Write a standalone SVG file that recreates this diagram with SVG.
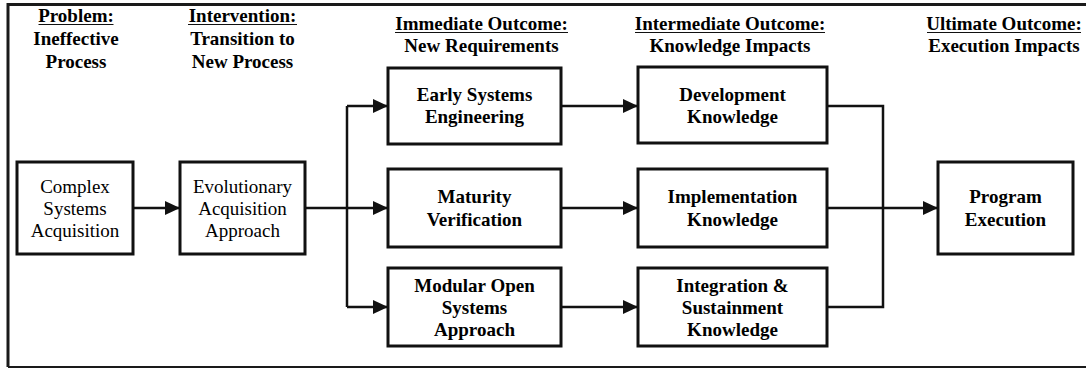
<svg xmlns="http://www.w3.org/2000/svg" width="1086" height="368" viewBox="0 0 1086 368">
<style>
  .box { fill: #ffffff; stroke: #111111; stroke-width: 3; }
  .c { fill: none; stroke: #111111; stroke-width: 2.5; }
  .ul { stroke: #111111; stroke-width: 1.2; }
</style>
<defs>
  <marker id="ah" markerUnits="userSpaceOnUse" markerWidth="16" markerHeight="15" refX="15" refY="7" orient="auto">
    <path d="M0,0 L15,7 L0,14 Z" fill="#111111"/>
  </marker>
</defs>
<rect width="1086" height="368" fill="#ffffff"/>
<g id="frame" fill="none" stroke="#1a1a1a">
  <path d="M1086,4.5 H8 V367" stroke-width="3"/>
  <path d="M8,367 H1086" stroke-width="2"/>
</g>
<g id="headers">
  <text font-family="Liberation Serif" font-size="19" font-weight="bold" x="76" y="22" text-anchor="middle">Problem:</text>
  <text font-family="Liberation Serif" font-size="19" font-weight="bold" x="76" y="45" text-anchor="middle">Ineffective</text>
  <text font-family="Liberation Serif" font-size="19" font-weight="bold" x="76" y="68" text-anchor="middle">Process</text>
  <text font-family="Liberation Serif" font-size="19" font-weight="bold" x="242.5" y="22" text-anchor="middle">Intervention:</text>
  <text font-family="Liberation Serif" font-size="19" font-weight="bold" x="242.5" y="45" text-anchor="middle">Transition to</text>
  <text font-family="Liberation Serif" font-size="19" font-weight="bold" x="242.5" y="68" text-anchor="middle">New Process</text>
  <text font-family="Liberation Serif" font-size="19" font-weight="bold" x="481.5" y="30" text-anchor="middle">Immediate Outcome:</text>
  <text font-family="Liberation Serif" font-size="19" font-weight="bold" x="481.5" y="52" text-anchor="middle">New Requirements</text>
  <text font-family="Liberation Serif" font-size="19" font-weight="bold" x="730" y="30" text-anchor="middle">Intermediate Outcome:</text>
  <text font-family="Liberation Serif" font-size="19" font-weight="bold" x="730" y="52" text-anchor="middle">Knowledge Impacts</text>
  <text font-family="Liberation Serif" font-size="19" font-weight="bold" x="1004" y="30" text-anchor="middle">Ultimate Outcome:</text>
  <text font-family="Liberation Serif" font-size="19" font-weight="bold" x="1004" y="52" text-anchor="middle">Execution Impacts</text>
  <path class="ul" d="M38.5,24.5 H113.5 M188,24.5 H297 M395,32.5 H568 M635,32.5 H825 M927,32.5 H1081"/>
</g>
<g id="connectors">
  <path class="c" d="M133,208 H180" marker-end="url(#ah)"/>
  <path class="c" d="M305,208 H388" marker-end="url(#ah)"/>
  <path class="c" d="M347,106 V307"/>
  <path class="c" d="M347,106 H388" marker-end="url(#ah)"/>
  <path class="c" d="M347,307 H388" marker-end="url(#ah)"/>
  <path class="c" d="M561,106 H638" marker-end="url(#ah)"/>
  <path class="c" d="M561,208 H638" marker-end="url(#ah)"/>
  <path class="c" d="M561,307 H638" marker-end="url(#ah)"/>
  <path class="c" d="M827,106 H883 V307 H827"/>
  <path class="c" d="M827,208 H938" marker-end="url(#ah)"/>
</g>
<g id="complex">
  <rect class="box" x="17" y="162" width="116" height="92"/>
  <text font-family="Liberation Serif" font-size="19" x="75" y="193" text-anchor="middle">Complex</text>
  <text font-family="Liberation Serif" font-size="19" x="75" y="215" text-anchor="middle">Systems</text>
  <text font-family="Liberation Serif" font-size="19" x="75" y="237" text-anchor="middle">Acquisition</text>
</g>
<g id="evolutionary">
  <rect class="box" x="180" y="162" width="125" height="92"/>
  <text font-family="Liberation Serif" font-size="19" x="242.5" y="193" text-anchor="middle">Evolutionary</text>
  <text font-family="Liberation Serif" font-size="19" x="242.5" y="215" text-anchor="middle">Acquisition</text>
  <text font-family="Liberation Serif" font-size="19" x="242.5" y="237" text-anchor="middle">Approach</text>
</g>
<g id="early">
  <rect class="box" x="388" y="68" width="173" height="76"/>
  <text font-family="Liberation Serif" font-size="19" font-weight="bold" x="474.5" y="101" text-anchor="middle">Early Systems</text>
  <text font-family="Liberation Serif" font-size="19" font-weight="bold" x="474.5" y="123" text-anchor="middle">Engineering</text>
</g>
<g id="maturity">
  <rect class="box" x="388" y="169" width="173" height="78"/>
  <text font-family="Liberation Serif" font-size="19" font-weight="bold" x="474.5" y="203" text-anchor="middle">Maturity</text>
  <text font-family="Liberation Serif" font-size="19" font-weight="bold" x="474.5" y="226" text-anchor="middle">Verification</text>
</g>
<g id="modular">
  <rect class="box" x="388" y="268" width="173" height="78"/>
  <text font-family="Liberation Serif" font-size="19" font-weight="bold" x="474.5" y="292" text-anchor="middle">Modular Open</text>
  <text font-family="Liberation Serif" font-size="19" font-weight="bold" x="474.5" y="313.5" text-anchor="middle">Systems</text>
  <text font-family="Liberation Serif" font-size="19" font-weight="bold" x="474.5" y="335.5" text-anchor="middle">Approach</text>
</g>
<g id="development">
  <rect class="box" x="638" y="67" width="189" height="76"/>
  <text font-family="Liberation Serif" font-size="19" font-weight="bold" x="732.5" y="101" text-anchor="middle">Development</text>
  <text font-family="Liberation Serif" font-size="19" font-weight="bold" x="732.5" y="123" text-anchor="middle">Knowledge</text>
</g>
<g id="implementation">
  <rect class="box" x="638" y="169" width="189" height="78"/>
  <text font-family="Liberation Serif" font-size="19" font-weight="bold" x="732.5" y="203" text-anchor="middle">Implementation</text>
  <text font-family="Liberation Serif" font-size="19" font-weight="bold" x="732.5" y="226" text-anchor="middle">Knowledge</text>
</g>
<g id="integration">
  <rect class="box" x="638" y="268" width="189" height="78"/>
  <text font-family="Liberation Serif" font-size="19" font-weight="bold" x="732.5" y="292" text-anchor="middle">Integration &amp;</text>
  <text font-family="Liberation Serif" font-size="19" font-weight="bold" x="732.5" y="313.5" text-anchor="middle">Sustainment</text>
  <text font-family="Liberation Serif" font-size="19" font-weight="bold" x="732.5" y="335.5" text-anchor="middle">Knowledge</text>
</g>
<g id="program">
  <rect class="box" x="938" y="162" width="135" height="92"/>
  <text font-family="Liberation Serif" font-size="19" font-weight="bold" x="1005.5" y="203" text-anchor="middle">Program</text>
  <text font-family="Liberation Serif" font-size="19" font-weight="bold" x="1005.5" y="226" text-anchor="middle">Execution</text>
</g>
</svg>
